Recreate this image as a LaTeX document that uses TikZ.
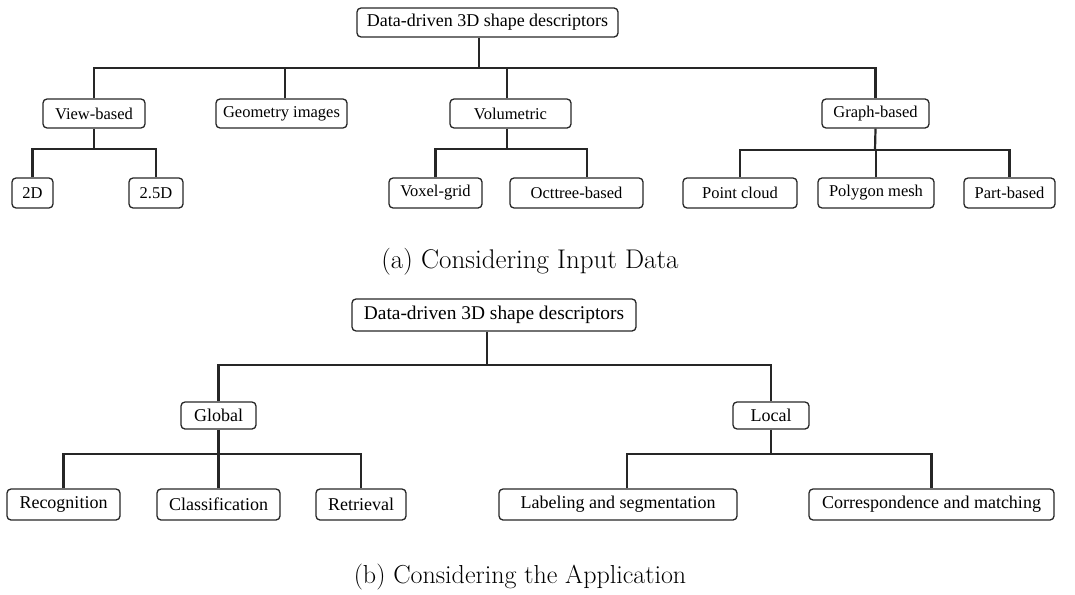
\documentclass[tikz,border=0pt]{standalone}
\usepackage{fontspec}
\newfontfamily\boxfont{Liberation Serif}
\begin{document}
\begin{tikzpicture}[x=1pt,y=-1pt,
  tbox/.style={draw=black!85, line width=1.3pt, rounded corners=4pt, inner sep=0pt, align=center},
  boxa/.style={tbox, font=\boxfont\fontsize{16.5}{18}\selectfont},
  boxb/.style={tbox, font=\boxfont\fontsize{18}{20}\selectfont},
  rootbox/.style={tbox, font=\boxfont\fontsize{#1}{20}\selectfont},
  link/.style={line width=2.2pt, draw=black!85},
  caption/.style={anchor=base, font=\fontsize{#1}{28}\selectfont}
]
\useasboundingbox (0,0) rectangle (1075,594);

% ---------- (a) taxonomy by input data ----------
\node[rootbox=18, minimum width=261pt, minimum height=29pt] (ra) at (487.5,22.5) {Data-driven 3D shape descriptors};

\node[boxa, minimum width=102pt, minimum height=29pt] (view)  at (94,113.5)  {View-based};
\node[boxa, minimum width=131pt, minimum height=29pt] (geom)  at (281.5,113.5) {Geometry images};
\node[boxa, minimum width=121pt, minimum height=29pt] (vol)   at (510.5,113.5) {Volumetric};
\node[boxa, minimum width=107pt, minimum height=29pt] (graph) at (875.5,113.5) {Graph-based};

\node[boxa, minimum width=41pt,  minimum height=30pt] (d2)  at (32.5,193)  {2D};
\node[boxa, minimum width=54pt,  minimum height=30pt] (d25) at (156,193)   {2.5D};
\node[boxa, minimum width=93pt,  minimum height=30pt] (vox) at (435.5,193) {Voxel-grid};
\node[boxa, minimum width=133pt, minimum height=30pt] (oct) at (576.5,193) {Octtree-based};
\node[boxa, minimum width=114pt, minimum height=30pt] (pc)  at (740,193)   {Point cloud};
\node[boxa, minimum width=116pt, minimum height=30pt] (pm)  at (876,193)   {Polygon mesh};
\node[boxa, minimum width=91pt,  minimum height=30pt] (pb)  at (1009.5,193) {Part-based};

\coordinate (ja) at (479,68);
\coordinate (jv) at (94,149);
\coordinate (jvol) at (507,149);
\coordinate (jg) at (875,150);

\draw[link] (ra.south -| ja) -- (ja);
\draw[link] (view.north) |- (ja) -| (graph.north);
\draw[link] ([xshift=3.5pt]geom.north) -- ([xshift=3.5pt]geom.north |- ja);
\draw[link] ([xshift=-3.5pt]vol.north) -- ([xshift=-3.5pt]vol.north |- ja);

\draw[link] (view.south) -- (jv);
\draw[link] (d2.north) |- (jv) -| (d25.north);

\draw[link] ([xshift=-3.5pt]vol.south) -- (jvol);
\draw[link] (vox.north) |- (jvol) -| ([xshift=10.5pt]oct.north);

\draw[link] (graph.south) -- (jg);
\draw[link] (pc.north) |- (jg) -| (pb.north);
\draw[link] (pm.north) -- (pm.north |- jg);

\node[caption=27] (capa) at (530,268) {(a) Considering Input Data};

% ---------- (b) taxonomy by application ----------
\node[rootbox=19.4, minimum width=284pt, minimum height=32pt] (rb) at (494,315) {Data-driven 3D shape descriptors};

\node[boxb, minimum width=75pt, minimum height=27pt] (gl) at (218.5,415.5) {Global};
\node[boxb, minimum width=76pt, minimum height=27pt] (lo) at (771,415.5)   {Local};

\node[boxb, minimum width=113pt, minimum height=31pt] (rec) at (63.5,504.5)  {Recognition};
\node[boxb, minimum width=123pt, minimum height=31pt] (cls) at (218.5,504.5) {Classification};
\node[boxb, minimum width=90pt,  minimum height=31pt] (ret) at (361,504.5)   {Retrieval};
\node[boxb, minimum width=238pt, minimum height=31pt] (lab) at (618,504.5)   {Labeling and segmentation};
\node[boxb, minimum width=245pt, minimum height=31pt] (cor) at (931.5,504.5) {Correspondence and matching};

\coordinate (jb) at (487,365);
\coordinate (jgl) at (219,454);
\coordinate (jlo) at (772,454);

\draw[link] (rb.south -| jb) -- (jb);
\draw[link] (gl.north) |- (jb) -| (lo.north);

\draw[link] (gl.south) -- (gl.south |- jgl);
\draw[link] (rec.north) |- (jgl) -| (ret.north);
\draw[link] (cls.north) -- (cls.north |- jgl);

\draw[link] (lo.south) -- (lo.south |- jlo);
\draw[link] ([xshift=9pt]lab.north) |- (jlo) -| (cor.north);

\node[caption=26] (capb) at (520,583) {(b) Considering the Application};
\end{tikzpicture}
\end{document}
